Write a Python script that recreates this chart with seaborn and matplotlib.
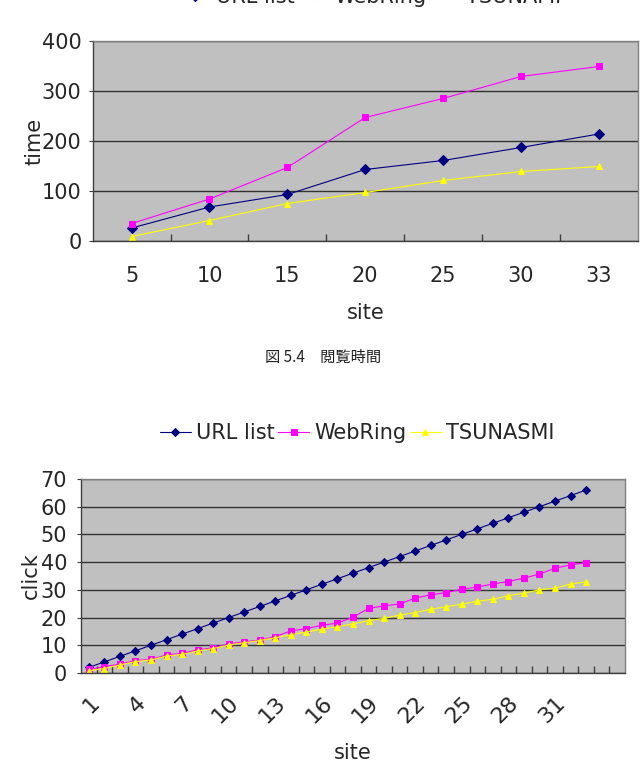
import numpy as np
import pandas as pd
import matplotlib
matplotlib.use('Agg')
from matplotlib import pyplot as plt
from matplotlib.ticker import FixedLocator, MultipleLocator
import seaborn as sns

# top chart: viewing time per site count
time_sites = ['5', '10', '15', '20', '25', '30', '33']
url_time = [26, 68, 93, 143, 161, 187, 214]
webring_time = [35, 84, 147, 247, 285, 329, 349]
tsunami_time = [9, 41, 75, 97, 121, 139, 149]

# bottom chart: clicks per site
click_sites = [str(i) for i in range(1, 34)]
url_click = [2, 4, 6, 8, 10, 12, 14, 16, 18, 20, 22, 24, 26, 28, 30, 32, 34,
             36, 38, 40, 42, 44, 46, 48, 50, 52, 54, 56, 58, 60, 62, 64, 66]
webring_click = [1.3, 2.3, 3.2, 4.5, 4.9, 6.5, 7.1, 8.3, 9.1, 10.5, 11.2, 11.9,
                 13.1, 15.2, 16, 17.2, 18, 20.1, 23.3, 24.2, 24.9, 27, 28.2, 29,
                 30.2, 31, 32.1, 33, 34.2, 35.7, 37.8, 39, 39.8]
tsunasmi_click = [0.8, 1.6, 2.9, 4.1, 4.7, 6.1, 6.7, 7.9, 8.8, 10.1, 10.9, 11.7,
                  12.7, 13.8, 14.8, 15.8, 16.7, 17.7, 18.9, 19.7, 20.9, 21.8, 23,
                  23.9, 24.8, 25.9, 26.6, 27.9, 28.8, 30, 30.6, 32.1, 32.9]
click_label_sites = ['1', '4', '7', '10', '13', '16', '19', '22', '25', '28', '31']

NAVY = '#000080'
MAGENTA = '#FF00FF'
YELLOW = '#FFFF00'

sns.set_style('white')
plt.rcParams['font.family'] = ['DejaVu Sans', 'Noto Sans CJK JP']


def style_axes(ax, n_cat, ymax, ystep, ypad):
    ax.set_facecolor('#C0C0C0')
    ax.set_xlim(-0.5, n_cat - 0.5)
    ax.set_ylim(0, ymax)
    ax.yaxis.set_major_locator(MultipleLocator(ystep))
    ax.grid(axis='y', color='#333333', linewidth=1.0)
    ax.grid(axis='x', visible=False)
    ax.set_axisbelow(True)
    for side in ['top', 'right']:
        ax.spines[side].set_color('#808080')
        ax.spines[side].set_linewidth(1.0)
    for side in ['left', 'bottom']:
        ax.spines[side].set_color('#404040')
        ax.spines[side].set_linewidth(1.0)
    ax.xaxis.set_minor_locator(FixedLocator(np.arange(0.5, n_cat - 0.5, 1.0)))
    ax.tick_params(axis='x', which='minor', direction='in', length=5,
                   color='#404040', width=1, bottom=True)
    ax.tick_params(axis='x', which='major', length=0, labelsize=15, pad=18)
    ax.tick_params(axis='y', which='major', direction='out', length=3,
                   color='#404040', labelsize=15, pad=ypad, left=True)


def draw_series(ax, x, series, ms):
    for name, vals, color, marker in series:
        sns.lineplot(x=x, y=vals, ax=ax, color=color, marker=marker,
                     markersize=ms, markeredgecolor=color, linewidth=0.8,
                     label=name, legend=False)


fig = plt.figure(figsize=(6.41, 7.70), dpi=100)

# ---- top chart ----
ax1 = fig.add_axes([0.1446, 0.687, 0.8504, 0.2598])
x1 = np.arange(len(time_sites))
draw_series(ax1, x1, [('URL list', url_time, NAVY, 'D'),
                      ('WebRing', webring_time, MAGENTA, 's'),
                      ('TSUNAMI', tsunami_time, YELLOW, '^')], 5)
style_axes(ax1, len(time_sites), 400, 100, 5)
ax1.set_xticks(x1)
ax1.set_xticklabels(time_sites)
ax1.set_xlabel('site', fontsize=15, labelpad=12)
ax1.set_ylabel('time', fontsize=15, labelpad=-2)

# legend of the top chart sits half outside the page, as in the scan
h1, l1 = ax1.get_legend_handles_labels()
fig.legend(h1, l1, loc='center', bbox_to_anchor=(0.577, 1.004), ncol=3,
           frameon=False, fontsize=15, handlelength=1.5, handletextpad=0.25,
           columnspacing=0.15)

fig.text(0.504, 1 - 357 / 770, '図 5.4\u3000閲覧時間', ha='center', va='center',
         fontsize=11, family=['Noto Sans CJK JP', 'DejaVu Sans'], color='#222222')

# ---- bottom chart ----
ax2 = fig.add_axes([0.1264, 0.126, 0.8486, 0.252])
x2 = np.arange(len(click_sites))
draw_series(ax2, x2, [('URL list', url_click, NAVY, 'D'),
                      ('WebRing', webring_click, MAGENTA, 's'),
                      ('TSUNASMI', tsunasmi_click, YELLOW, '^')], 4.5)
style_axes(ax2, 35, 70, 10, 7)
ax2.set_xticks(np.arange(0, 33, 3))
ax2.set_xticklabels(click_label_sites, rotation=45, ha='right', va='top',
                    rotation_mode='anchor', fontsize=16)
ax2.tick_params(axis='x', which='major', pad=14)
ax2.set_xlabel('site', fontsize=15, labelpad=12)
ax2.set_ylabel('click', fontsize=15, labelpad=0)

h2, l2 = ax2.get_legend_handles_labels()
fig.legend(h2, l2, loc='center', bbox_to_anchor=(0.557, 1 - 433 / 770), ncol=3,
           frameon=False, fontsize=15, handlelength=1.5, handletextpad=0.25,
           columnspacing=0.15)

fig.savefig('out.png', dpi=100)
